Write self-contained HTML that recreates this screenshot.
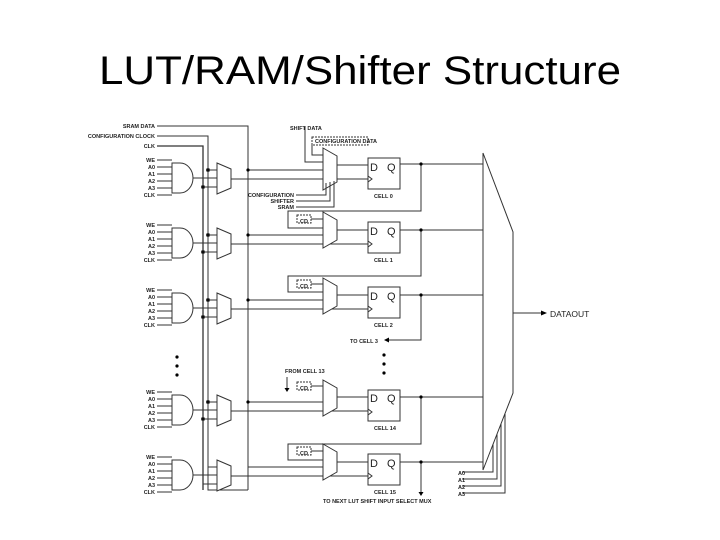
<!DOCTYPE html>
<html><head><style>
html,body{margin:0;padding:0;background:#fff;}
svg{display:block}
text{font-family:"Liberation Sans",sans-serif;}
.s{font-size:5.5px;font-weight:bold;fill:#222}
</style></head><body>
<svg width="720" height="540" viewBox="0 0 720 540" xmlns="http://www.w3.org/2000/svg">
<text x="360" y="84" font-size="40" text-anchor="middle" textLength="522" lengthAdjust="spacingAndGlyphs" fill="#000">LUT/RAM/Shifter Structure</text>
<g stroke="#333" stroke-width="1" fill="none">
<!-- top control lines -->
<path d="M157 126H248V490"/>
<path d="M157 136H208V490H248"/>
<path d="M157 146H203V490" stroke-width="1.3"/>
</g>
<g class="s" text-anchor="end">
<text x="155" y="128">SRAM DATA</text>
<text x="155" y="138">CONFIGURATION CLOCK</text>
<text x="155" y="148">CLK</text>
</g>

<!-- gate blocks -->
<g id="blocks" stroke="#333" fill="none" stroke-width="1">
<g transform="translate(0,160)">
<path d="M157 0H172M157 7H172M157 14H172M157 21H172M157 28H172M157 35H172"/>
<path d="M172 3V33H180A13 15 0 0 0 180 3Z" fill="#fff"/>
<path d="M193 18H217"/>
<path d="M217 3L231 9V28L217 34Z" fill="#fff"/>
<path d="M208 10H217M203 27H217M231 19H368"/>
<circle cx="208" cy="10" r="1.5" fill="#000"/><circle cx="203" cy="27" r="1.5" fill="#000"/>
</g>
<g transform="translate(0,225)">
<path d="M157 0H172M157 7H172M157 14H172M157 21H172M157 28H172M157 35H172"/>
<path d="M172 3V33H180A13 15 0 0 0 180 3Z" fill="#fff"/>
<path d="M193 18H217"/>
<path d="M217 3L231 9V28L217 34Z" fill="#fff"/>
<path d="M208 10H217M203 27H217M231 19H368"/>
<circle cx="208" cy="10" r="1.5" fill="#000"/><circle cx="203" cy="27" r="1.5" fill="#000"/>
</g>
<g transform="translate(0,290)">
<path d="M157 0H172M157 7H172M157 14H172M157 21H172M157 28H172M157 35H172"/>
<path d="M172 3V33H180A13 15 0 0 0 180 3Z" fill="#fff"/>
<path d="M193 18H217"/>
<path d="M217 3L231 9V28L217 34Z" fill="#fff"/>
<path d="M208 10H217M203 27H217M231 19H368"/>
<circle cx="208" cy="10" r="1.5" fill="#000"/><circle cx="203" cy="27" r="1.5" fill="#000"/>
</g>
<g transform="translate(0,392)">
<path d="M157 0H172M157 7H172M157 14H172M157 21H172M157 28H172M157 35H172"/>
<path d="M172 3V33H180A13 15 0 0 0 180 3Z" fill="#fff"/>
<path d="M193 18H217"/>
<path d="M217 3L231 9V28L217 34Z" fill="#fff"/>
<path d="M208 10H217M203 27H217M231 19H368"/>
<circle cx="208" cy="10" r="1.5" fill="#000"/><circle cx="203" cy="27" r="1.5" fill="#000"/>
</g>
<g transform="translate(0,457)">
<path d="M157 0H172M157 7H172M157 14H172M157 21H172M157 28H172M157 35H172"/>
<path d="M172 3V33H180A13 15 0 0 0 180 3Z" fill="#fff"/>
<path d="M193 18H217"/>
<path d="M217 3L231 9V28L217 34Z" fill="#fff"/>
<path d="M208 10H217M203 27H217M231 19H368"/>
</g>
</g>
<g class="s" text-anchor="end">
<text x="155" y="162">WE</text><text x="155" y="169">A0</text><text x="155" y="176">A1</text><text x="155" y="183">A2</text><text x="155" y="190">A3</text><text x="155" y="197">CLK</text>
<text x="155" y="227">WE</text><text x="155" y="234">A0</text><text x="155" y="241">A1</text><text x="155" y="248">A2</text><text x="155" y="255">A3</text><text x="155" y="262">CLK</text>
<text x="155" y="292">WE</text><text x="155" y="299">A0</text><text x="155" y="306">A1</text><text x="155" y="313">A2</text><text x="155" y="320">A3</text><text x="155" y="327">CLK</text>
<text x="155" y="394">WE</text><text x="155" y="401">A0</text><text x="155" y="408">A1</text><text x="155" y="415">A2</text><text x="155" y="422">A3</text><text x="155" y="429">CLK</text>
<text x="155" y="459">WE</text><text x="155" y="466">A0</text><text x="155" y="473">A1</text><text x="155" y="480">A2</text><text x="155" y="487">A3</text><text x="155" y="494">CLK</text>
</g>
<g fill="#000"><circle cx="177" cy="357" r="1.6"/><circle cx="177" cy="366" r="1.6"/><circle cx="177" cy="375" r="1.6"/>
<circle cx="384" cy="355" r="1.6"/><circle cx="384" cy="364" r="1.6"/><circle cx="384" cy="373" r="1.6"/></g>

<!-- middle muxes, SRAM dots -->
<g stroke="#333" fill="none" stroke-width="1">
<path d="M248 170H323M248 235H323M248 300H323M248 402H323M248 467H323"/>
<path d="M323 148L337 156V182L323 190Z" fill="#fff"/>
<path d="M323 212L337 220V240L323 248Z" fill="#fff"/>
<path d="M323 278L337 286V306L323 314Z" fill="#fff"/>
<path d="M323 380L337 388V408L323 416Z" fill="#fff"/>
<path d="M323 444L337 452V472L323 480Z" fill="#fff"/>
<path d="M337 165H368M337 230H368M337 295H368M337 397H368M337 462H368"/>
<!-- cell0 mux controls -->
<path d="M305 127V162H323M312 143V155H323"/>
<path d="M296 195H326V183M296 201H330V182M296 207H334V181"/>
<rect x="312" y="137" width="56" height="8" stroke-dasharray="2 1"/>
<!-- CD boxes -->
<rect x="297" y="215" width="14" height="8" stroke-dasharray="2 1"/><path d="M311 219H323"/>
<rect x="297" y="280" width="14" height="8" stroke-dasharray="2 1"/><path d="M311 284H323"/>
<rect x="297" y="382" width="14" height="8" stroke-dasharray="2 1"/><path d="M311 386H323M287 377V389"/>
<rect x="297" y="447" width="14" height="8" stroke-dasharray="2 1"/><path d="M311 451H323"/>
<!-- feedback loops -->
<path d="M421 165V211H288V228H323"/>
<path d="M421 230V276H288V292H323"/>
<path d="M421 295V340H386"/>
<path d="M421 397V444H288V460H323"/>
<path d="M421 462V492"/>
<!-- flops -->
<rect x="368" y="158" width="32" height="31" fill="#fff"/>
<rect x="368" y="222" width="32" height="31" fill="#fff"/>
<rect x="368" y="287" width="32" height="31" fill="#fff"/>
<rect x="368" y="390" width="32" height="31" fill="#fff"/>
<rect x="368" y="454" width="32" height="31" fill="#fff"/>
<path d="M368 176l4 3-4 3M368 241l4 3-4 3M368 306l4 3-4 3M368 409l4 3-4 3M368 473l4 3-4 3"/>
<path d="M400 164H483M400 230H483M400 295H483M400 397H483M400 462H483"/>
<!-- big mux -->
<path d="M483 153V470L513 393V232Z"/>
<path d="M513 313H542"/>
<path d="M462 472H493V444M462 479H497V434M462 486H501V424M462 493H505V414"/>
</g>
<g fill="#000">
<circle cx="248" cy="170" r="1.6"/><circle cx="248" cy="235" r="1.6"/><circle cx="248" cy="300" r="1.6"/><circle cx="248" cy="402" r="1.6"/>
<circle cx="421" cy="164" r="1.6"/><circle cx="421" cy="230" r="1.6"/><circle cx="421" cy="295" r="1.6"/><circle cx="421" cy="397" r="1.6"/><circle cx="421" cy="462" r="1.6"/>
<path d="M547 313l-6-2.5v5z"/><path d="M384 340l5-2.5v5z"/><path d="M287 392l-2.5-4h5z"/><path d="M421 496l-2.5-4h5z"/>
</g>
<g font-size="11" fill="#222">
<text x="370" y="171">D</text><text x="387" y="171">Q</text>
<text x="370" y="235">D</text><text x="387" y="235">Q</text>
<text x="370" y="300">D</text><text x="387" y="300">Q</text>
<text x="370" y="402">D</text><text x="387" y="402">Q</text>
<text x="370" y="467">D</text><text x="387" y="467">Q</text>
</g>
<g class="s">
<text x="290" y="130">SHIFT DATA</text>
<text x="315" y="143">CONFIGURATION DATA</text>
<text x="300" y="223">CD</text><text x="300" y="288">CD</text><text x="300" y="390">CD</text><text x="300" y="455">CD</text>
<text x="374" y="198">CELL 0</text><text x="374" y="262">CELL 1</text><text x="374" y="327">CELL 2</text>
<text x="374" y="430">CELL 14</text><text x="374" y="494">CELL 15</text>
<text x="350" y="343">TO CELL 3</text>
<text x="285" y="373">FROM CELL 13</text>
<text x="323" y="503">TO NEXT LUT SHIFT INPUT SELECT MUX</text>
<text x="458" y="475">A0</text><text x="458" y="482">A1</text><text x="458" y="489">A2</text><text x="458" y="496">A3</text>
</g>
<g class="s" text-anchor="end">
<text x="294" y="197">CONFIGURATION</text><text x="294" y="203">SHIFTER</text><text x="294" y="209">SRAM</text>
</g>
<text x="550" y="317" font-size="8.5" fill="#222">DATAOUT</text>
</svg>
</body></html>
